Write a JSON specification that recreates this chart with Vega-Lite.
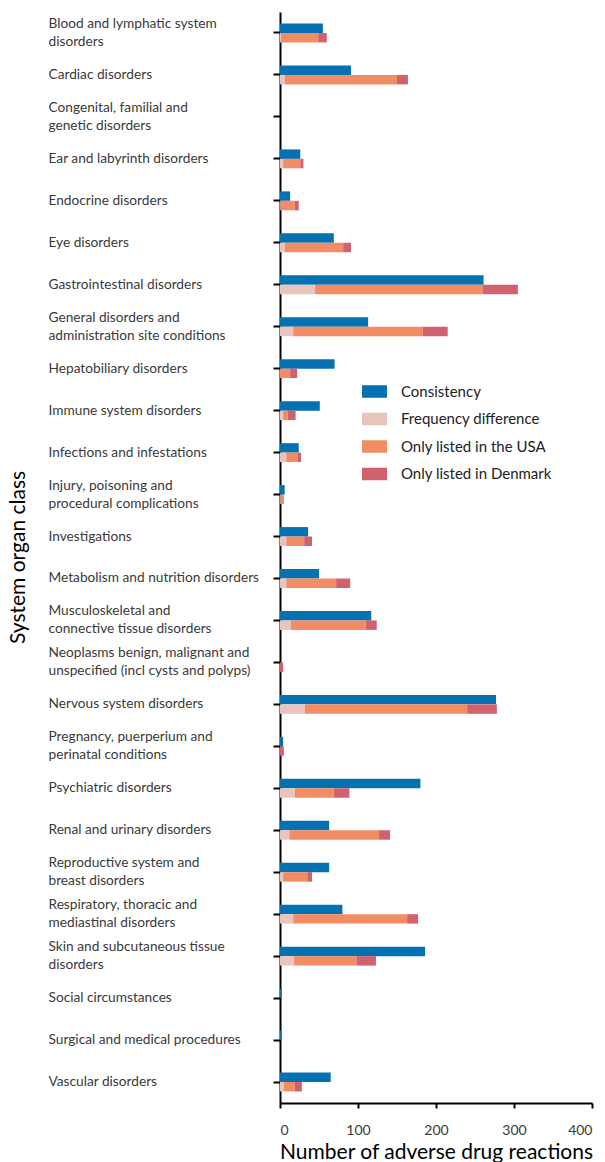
{
  "$schema": "https://vega.github.io/schema/vega-lite/v6.json",
  "width": 312,
  "height": 1091,
  "autosize": {"type": "none"},
  "padding": {"left": 280, "top": 12, "right": 13, "bottom": 59},
  "config": {
    "view": {"stroke": null},
    "font": "Lato",
    "axis": {"grid": false}
  },
  "data": {
    "values": [
      {"c": "Blood and lymphatic system|disorders", "g": "A", "t": "Consistency", "o": 0, "v": 55},
      {"c": "Blood and lymphatic system|disorders", "g": "B", "t": "Frequency difference", "o": 1, "v": 2},
      {"c": "Blood and lymphatic system|disorders", "g": "B", "t": "Only listed in the USA", "o": 2, "v": 47},
      {"c": "Blood and lymphatic system|disorders", "g": "B", "t": "Only listed in Denmark", "o": 3, "v": 11},
      {"c": "Cardiac disorders", "g": "A", "t": "Consistency", "o": 0, "v": 91},
      {"c": "Cardiac disorders", "g": "B", "t": "Frequency difference", "o": 1, "v": 6},
      {"c": "Cardiac disorders", "g": "B", "t": "Only listed in the USA", "o": 2, "v": 144},
      {"c": "Cardiac disorders", "g": "B", "t": "Only listed in Denmark", "o": 3, "v": 14},
      {"c": "Ear and labyrinth disorders", "g": "A", "t": "Consistency", "o": 0, "v": 26},
      {"c": "Ear and labyrinth disorders", "g": "B", "t": "Frequency difference", "o": 1, "v": 4},
      {"c": "Ear and labyrinth disorders", "g": "B", "t": "Only listed in the USA", "o": 2, "v": 22},
      {"c": "Ear and labyrinth disorders", "g": "B", "t": "Only listed in Denmark", "o": 3, "v": 4},
      {"c": "Endocrine disorders", "g": "A", "t": "Consistency", "o": 0, "v": 13},
      {"c": "Endocrine disorders", "g": "B", "t": "Frequency difference", "o": 1, "v": 1},
      {"c": "Endocrine disorders", "g": "B", "t": "Only listed in the USA", "o": 2, "v": 18},
      {"c": "Endocrine disorders", "g": "B", "t": "Only listed in Denmark", "o": 3, "v": 5},
      {"c": "Eye disorders", "g": "A", "t": "Consistency", "o": 0, "v": 69},
      {"c": "Eye disorders", "g": "B", "t": "Frequency difference", "o": 1, "v": 6},
      {"c": "Eye disorders", "g": "B", "t": "Only listed in the USA", "o": 2, "v": 75},
      {"c": "Eye disorders", "g": "B", "t": "Only listed in Denmark", "o": 3, "v": 10},
      {"c": "Gastrointestinal disorders", "g": "A", "t": "Consistency", "o": 0, "v": 261},
      {"c": "Gastrointestinal disorders", "g": "B", "t": "Frequency difference", "o": 1, "v": 45},
      {"c": "Gastrointestinal disorders", "g": "B", "t": "Only listed in the USA", "o": 2, "v": 215},
      {"c": "Gastrointestinal disorders", "g": "B", "t": "Only listed in Denmark", "o": 3, "v": 45},
      {"c": "General disorders and|administration site conditions", "g": "A", "t": "Consistency", "o": 0, "v": 113},
      {"c": "General disorders and|administration site conditions", "g": "B", "t": "Frequency difference", "o": 1, "v": 17},
      {"c": "General disorders and|administration site conditions", "g": "B", "t": "Only listed in the USA", "o": 2, "v": 166},
      {"c": "General disorders and|administration site conditions", "g": "B", "t": "Only listed in Denmark", "o": 3, "v": 32},
      {"c": "Hepatobiliary disorders", "g": "A", "t": "Consistency", "o": 0, "v": 70},
      {"c": "Hepatobiliary disorders", "g": "B", "t": "Only listed in the USA", "o": 2, "v": 13},
      {"c": "Hepatobiliary disorders", "g": "B", "t": "Only listed in Denmark", "o": 3, "v": 9},
      {"c": "Immune system disorders", "g": "A", "t": "Consistency", "o": 0, "v": 51},
      {"c": "Immune system disorders", "g": "B", "t": "Frequency difference", "o": 1, "v": 4},
      {"c": "Immune system disorders", "g": "B", "t": "Only listed in the USA", "o": 2, "v": 6},
      {"c": "Immune system disorders", "g": "B", "t": "Only listed in Denmark", "o": 3, "v": 10},
      {"c": "Infections and infestations", "g": "A", "t": "Consistency", "o": 0, "v": 24},
      {"c": "Infections and infestations", "g": "B", "t": "Frequency difference", "o": 1, "v": 8},
      {"c": "Infections and infestations", "g": "B", "t": "Only listed in the USA", "o": 2, "v": 15},
      {"c": "Infections and infestations", "g": "B", "t": "Only listed in Denmark", "o": 3, "v": 4},
      {"c": "Injury, poisoning and|procedural complications", "g": "A", "t": "Consistency", "o": 0, "v": 6},
      {"c": "Injury, poisoning and|procedural complications", "g": "B", "t": "Frequency difference", "o": 1, "v": 1},
      {"c": "Injury, poisoning and|procedural complications", "g": "B", "t": "Only listed in the USA", "o": 2, "v": 4},
      {"c": "Investigations", "g": "A", "t": "Consistency", "o": 0, "v": 36},
      {"c": "Investigations", "g": "B", "t": "Frequency difference", "o": 1, "v": 8},
      {"c": "Investigations", "g": "B", "t": "Only listed in the USA", "o": 2, "v": 23},
      {"c": "Investigations", "g": "B", "t": "Only listed in Denmark", "o": 3, "v": 10},
      {"c": "Metabolism and nutrition disorders", "g": "A", "t": "Consistency", "o": 0, "v": 50},
      {"c": "Metabolism and nutrition disorders", "g": "B", "t": "Frequency difference", "o": 1, "v": 8},
      {"c": "Metabolism and nutrition disorders", "g": "B", "t": "Only listed in the USA", "o": 2, "v": 64},
      {"c": "Metabolism and nutrition disorders", "g": "B", "t": "Only listed in Denmark", "o": 3, "v": 18},
      {"c": "Musculoskeletal and|connective tissue disorders", "g": "A", "t": "Consistency", "o": 0, "v": 117},
      {"c": "Musculoskeletal and|connective tissue disorders", "g": "B", "t": "Frequency difference", "o": 1, "v": 14},
      {"c": "Musculoskeletal and|connective tissue disorders", "g": "B", "t": "Only listed in the USA", "o": 2, "v": 96},
      {"c": "Musculoskeletal and|connective tissue disorders", "g": "B", "t": "Only listed in Denmark", "o": 3, "v": 14},
      {"c": "Neoplasms benign, malignant and|unspecified (incl cysts and polyps)", "g": "B", "t": "Only listed in Denmark", "o": 3, "v": 4},
      {"c": "Nervous system disorders", "g": "A", "t": "Consistency", "o": 0, "v": 277},
      {"c": "Nervous system disorders", "g": "B", "t": "Frequency difference", "o": 1, "v": 32},
      {"c": "Nervous system disorders", "g": "B", "t": "Only listed in the USA", "o": 2, "v": 208},
      {"c": "Nervous system disorders", "g": "B", "t": "Only listed in Denmark", "o": 3, "v": 38},
      {"c": "Pregnancy, puerperium and|perinatal conditions", "g": "A", "t": "Consistency", "o": 0, "v": 4},
      {"c": "Pregnancy, puerperium and|perinatal conditions", "g": "B", "t": "Only listed in Denmark", "o": 3, "v": 5},
      {"c": "Psychiatric disorders", "g": "A", "t": "Consistency", "o": 0, "v": 180},
      {"c": "Psychiatric disorders", "g": "B", "t": "Frequency difference", "o": 1, "v": 19},
      {"c": "Psychiatric disorders", "g": "B", "t": "Only listed in the USA", "o": 2, "v": 50},
      {"c": "Psychiatric disorders", "g": "B", "t": "Only listed in Denmark", "o": 3, "v": 20},
      {"c": "Renal and urinary disorders", "g": "A", "t": "Consistency", "o": 0, "v": 63},
      {"c": "Renal and urinary disorders", "g": "B", "t": "Frequency difference", "o": 1, "v": 12},
      {"c": "Renal and urinary disorders", "g": "B", "t": "Only listed in the USA", "o": 2, "v": 115},
      {"c": "Renal and urinary disorders", "g": "B", "t": "Only listed in Denmark", "o": 3, "v": 14},
      {"c": "Reproductive system and|breast disorders", "g": "A", "t": "Consistency", "o": 0, "v": 63},
      {"c": "Reproductive system and|breast disorders", "g": "B", "t": "Frequency difference", "o": 1, "v": 4},
      {"c": "Reproductive system and|breast disorders", "g": "B", "t": "Only listed in the USA", "o": 2, "v": 31},
      {"c": "Reproductive system and|breast disorders", "g": "B", "t": "Only listed in Denmark", "o": 3, "v": 6},
      {"c": "Respiratory, thoracic and|mediastinal disorders", "g": "A", "t": "Consistency", "o": 0, "v": 80},
      {"c": "Respiratory, thoracic and|mediastinal disorders", "g": "B", "t": "Frequency difference", "o": 1, "v": 17},
      {"c": "Respiratory, thoracic and|mediastinal disorders", "g": "B", "t": "Only listed in the USA", "o": 2, "v": 146},
      {"c": "Respiratory, thoracic and|mediastinal disorders", "g": "B", "t": "Only listed in Denmark", "o": 3, "v": 14},
      {"c": "Skin and subcutaneous tissue|disorders", "g": "A", "t": "Consistency", "o": 0, "v": 186},
      {"c": "Skin and subcutaneous tissue|disorders", "g": "B", "t": "Frequency difference", "o": 1, "v": 18},
      {"c": "Skin and subcutaneous tissue|disorders", "g": "B", "t": "Only listed in the USA", "o": 2, "v": 80},
      {"c": "Skin and subcutaneous tissue|disorders", "g": "B", "t": "Only listed in Denmark", "o": 3, "v": 25},
      {"c": "Social circumstances", "g": "A", "t": "Consistency", "o": 0, "v": 2},
      {"c": "Surgical and medical procedures", "g": "A", "t": "Consistency", "o": 0, "v": 2},
      {"c": "Vascular disorders", "g": "A", "t": "Consistency", "o": 0, "v": 65},
      {"c": "Vascular disorders", "g": "B", "t": "Frequency difference", "o": 1, "v": 5},
      {"c": "Vascular disorders", "g": "B", "t": "Only listed in the USA", "o": 2, "v": 14},
      {"c": "Vascular disorders", "g": "B", "t": "Only listed in Denmark", "o": 3, "v": 9}
    ]
  },
  "mark": {"type": "bar", "strokeWidth": 0},
  "encoding": {
    "y": {
      "field": "c",
      "type": "nominal",
      "scale": {
        "domain": [
          "Blood and lymphatic system|disorders",
          "Cardiac disorders",
          "Congenital, familial and|genetic disorders",
          "Ear and labyrinth disorders",
          "Endocrine disorders",
          "Eye disorders",
          "Gastrointestinal disorders",
          "General disorders and|administration site conditions",
          "Hepatobiliary disorders",
          "Immune system disorders",
          "Infections and infestations",
          "Injury, poisoning and|procedural complications",
          "Investigations",
          "Metabolism and nutrition disorders",
          "Musculoskeletal and|connective tissue disorders",
          "Neoplasms benign, malignant and|unspecified (incl cysts and polyps)",
          "Nervous system disorders",
          "Pregnancy, puerperium and|perinatal conditions",
          "Psychiatric disorders",
          "Renal and urinary disorders",
          "Reproductive system and|breast disorders",
          "Respiratory, thoracic and|mediastinal disorders",
          "Skin and subcutaneous tissue|disorders",
          "Social circumstances",
          "Surgical and medical procedures",
          "Vascular disorders"
        ],
        "paddingInner": 0.55,
        "paddingOuter": 0.275
      },
      "axis": {
        "title": "System organ class",
        "titleFont": "Lato",
        "titleFontSize": 21,
        "titleFontWeight": "normal",
        "titleColor": "#000000",
        "titleX": -252,
        "titleY": 545,
        "labelExpr": "split(datum.label, '|')",
        "labelAlign": "left",
        "labelBaseline": "middle",
        "labelOffset": {"condition": {"test": "indexof(datum.value, '|') >= 0", "value": -9}, "value": 0},
        "labelPadding": 225,
        "labelFont": "Lato",
        "labelFontSize": 13.7,
        "labelLineHeight": 18,
        "labelColor": "#3a3a3a",
        "labelLimit": 300,
        "tickSize": 7,
        "tickWidth": 2,
        "tickColor": "#000000",
        "domainColor": "#000000",
        "domainWidth": 2
      }
    },
    "yOffset": {
      "field": "g",
      "type": "nominal",
      "scale": {"domain": ["A", "B"], "paddingInner": 0, "paddingOuter": 0}
    },
    "x": {
      "field": "v",
      "type": "quantitative",
      "stack": "zero",
      "scale": {"domain": [0, 400], "nice": false},
      "axis": {
        "title": "Number of adverse drug reactions",
        "titleFont": "Lato",
        "titleFontSize": 21,
        "titleFontWeight": "normal",
        "titleColor": "#000000",
        "titlePadding": 4,
        "values": [0, 100, 200, 300, 400],
        "labelFont": "Lato",
        "labelFontSize": 14,
        "labelColor": "#3a3a3a",
        "labelPadding": 15,
        "tickSize": 5,
        "tickWidth": 2,
        "tickColor": "#000000",
        "domainColor": "#000000",
        "domainWidth": 2
      }
    },
    "color": {
      "field": "t",
      "type": "nominal",
      "scale": {
        "domain": ["Consistency", "Frequency difference", "Only listed in the USA", "Only listed in Denmark"],
        "range": ["#0571b0", "#e8c4bc", "#f18c65", "#d0616d"]
      },
      "legend": {
        "title": null,
        "orient": "none",
        "legendX": 82,
        "legendY": 367,
        "padding": 0,
        "symbolType": "M-1,-0.5H1V0.5H-1Z",
        "symbolSize": 625,
        "symbolStrokeWidth": 0,
        "symbolOpacity": 1,
        "rowPadding": 6.5,
        "labelOffset": 14,
        "labelFont": "Lato",
        "labelFontSize": 15,
        "labelColor": "#222222"
      }
    },
    "order": {"field": "o", "type": "quantitative"}
  }
}
